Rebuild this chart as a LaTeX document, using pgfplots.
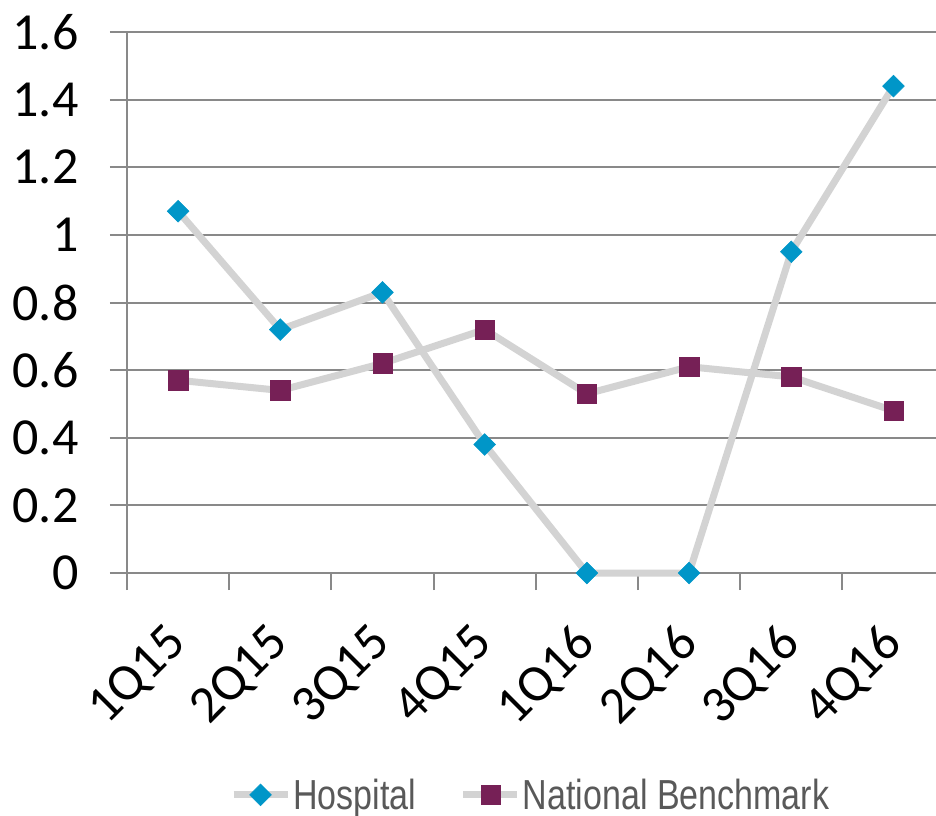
\documentclass[border=0pt]{standalone}
\usepackage{pgfplots}
\pgfplotsset{compat=1.18}
\usepackage{fontspec}
\setmainfont{Carlito}
\newfontfamily\legendfont[FakeStretch=0.81]{Liberation Sans}
\definecolor{hosp}{RGB}{0,150,200}
\definecolor{natl}{RGB}{118,32,86}
\definecolor{conn}{RGB}{211,211,211}
\definecolor{gridc}{RGB}{137,137,137}
\definecolor{legtxt}{RGB}{89,89,89}
\begin{document}
\begin{tikzpicture}
\begin{axis}[
  scale only axis,
  width=809pt, height=541pt,
  xmin=0, xmax=7.916,
  ymin=0, ymax=1.6,
  clip=false,
  axis x line*=bottom, axis y line*=left,
  axis line style={draw=gridc, line width=2pt, -},
  tick align=outside,
  major tick length=17pt,
  minor tick length=17pt,
  tick style={draw=gridc, line width=2pt},
  major x tick style={draw=none},
  minor x tick style={draw=gridc, line width=2pt},
  xtick={0.5,1.5,2.5,3.5,4.5,5.5,6.5,7.5},
  xticklabels={1Q15,2Q15,3Q15,4Q15,1Q16,2Q16,3Q16,4Q16},
  minor xtick={0,1,2,3,4,5,6,7,8},
  xticklabel style={rotate=45, anchor=north east, font=\fontsize{52}{52}\selectfont, inner sep=2pt, yshift=-10pt, xshift=-30pt},
  ytick={0,0.2,0.4,0.6,0.8,1,1.2,1.4,1.6},
  yticklabels={0,0.2,0.4,0.6,0.8,1,1.2,1.4,1.6},
  yticklabel style={font=\fontsize{52}{52}\selectfont, xshift=-28pt},
  ymajorgrids=true,
  major grid style={draw=gridc, line width=2pt},
  legend columns=2,
  legend style={draw=none, fill=none, at={(0.499,-0.41)}, anchor=center,
     font=\legendfont\fontsize{42}{42}\selectfont, text=legtxt,
     /tikz/every even column/.append style={column sep=42pt},
     inner sep=0pt},
  legend image code/.code={%
    \draw[#1, mark repeat=2, mark phase=2] plot coordinates {(0pt,0pt) (27pt,0pt) (54pt,0pt)};},
]
\addplot[conn, line width=7pt, mark=square*, mark size=7.7pt,
  mark options={draw=hosp, fill=hosp, line width=0.5pt, rotate=45}]
  coordinates {(0.5,1.07) (1.5,0.72) (2.5,0.83) (3.5,0.38) (4.5,0) (5.5,0) (6.5,0.95) (7.5,1.44)};
\addlegendentry{Hospital}
\addplot[conn, line width=7pt, mark=square*, mark size=9.7pt,
  mark options={draw=natl, fill=natl, line width=0.5pt}]
  coordinates {(0.5,0.57) (1.5,0.54) (2.5,0.62) (3.5,0.72) (4.5,0.53) (5.5,0.61) (6.5,0.58) (7.5,0.48)};
\addlegendentry{National Benchmark}
\end{axis}
\pgfresetboundingbox
\useasboundingbox (-127pt,-242pt) rectangle (809pt,573pt);
\end{tikzpicture}
\end{document}
